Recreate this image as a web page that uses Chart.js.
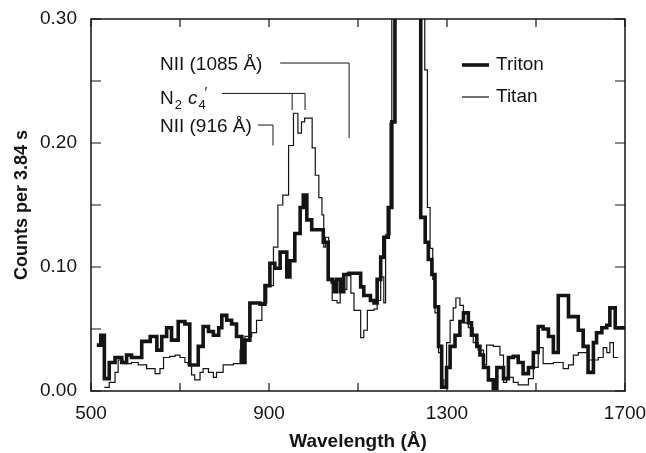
<!DOCTYPE html>
<html>
<head>
<meta charset="utf-8">
<script src="https://cdn.jsdelivr.net/npm/chart.js@4.4.0/dist/chart.umd.min.js"></script>
<style>
  html, body { margin: 0; padding: 0; background: #fff; }
</style>
</head>
<body>
<canvas id="chart" width="646" height="453"></canvas>
<script>
// данные спектров: левые края бинов (Å) и отсчёты; последний край закрывает последний бин
const seriesNames = ["Triton", "Titan"];

const tritonEdges = [513, 522, 530, 541, 554, 569, 580, 591, 614, 633, 648, 659, 670, 681, 696, 711, 722, 741, 752, 764,
  775, 787, 794, 805, 816, 827, 839, 846, 857, 880, 891, 902, 913, 925, 940, 947, 958, 970, 977, 985,
  996, 1022, 1033, 1042, 1046, 1051, 1060, 1068, 1080, 1106, 1113, 1128, 1136, 1143, 1151, 1158, 1168, 1176, 1183, 1241,
  1251, 1258, 1266, 1273, 1281, 1288, 1299, 1307, 1318, 1329, 1337, 1348, 1355, 1367, 1374, 1382, 1393, 1404, 1412, 1427,
  1438, 1449, 1460, 1471, 1483, 1494, 1505, 1516, 1528, 1539, 1550, 1573, 1595, 1606, 1617, 1629, 1636, 1648, 1659, 1666,
  1678, 1700];
const tritonCounts = [0.037, 0.045, 0.010, 0.023, 0.027, 0.023, 0.029, 0.027, 0.040, 0.044, 0.033, 0.044, 0.051, 0.041, 0.056, 0.054, 0.021, 0.036, 0.052, 0.048,
  0.045, 0.051, 0.061, 0.057, 0.054, 0.044, 0.023, 0.041, 0.071, 0.070, 0.085, 0.103, 0.099, 0.112, 0.092, 0.105, 0.127, 0.148, 0.158, 0.138,
  0.130, 0.120, 0.090, 0.088, 0.080, 0.090, 0.080, 0.094, 0.095, 0.084, 0.077, 0.073, 0.071, 0.090, 0.108, 0.124, 0.148, 0.217, 0.600, 0.140,
  0.120, 0.106, 0.094, 0.068, 0.036, 0.003, 0.019, 0.036, 0.045, 0.056, 0.063, 0.055, 0.045, 0.036, 0.029, 0.019, 0.009, 0.002, 0.019, 0.010,
  0.027, 0.028, 0.023, 0.014, 0.019, 0.031, 0.052, 0.050, 0.044, 0.031, 0.077, 0.060, 0.049, 0.036, 0.015, 0.039, 0.047, 0.051, 0.053, 0.067,
  0.051];

const titanEdges = [530, 541, 554, 561, 572, 591, 606, 625, 644, 655, 663, 677, 689, 700, 711, 718, 726, 733, 745, 752,
  764, 775, 782, 797, 820, 835, 846, 861, 872, 884, 895, 910, 920, 931, 944, 955, 965, 973, 980, 997,
  1004, 1012, 1019, 1023, 1027, 1034, 1042, 1053, 1060, 1068, 1075, 1084, 1091, 1106, 1113, 1121, 1136, 1143, 1151, 1158,
  1162, 1172, 1176, 1250, 1256, 1262, 1268, 1273, 1281, 1288, 1293, 1299, 1307, 1314, 1320, 1329, 1337, 1348, 1359, 1370,
  1382, 1389, 1404, 1419, 1427, 1434, 1449, 1460, 1483, 1494, 1505, 1516, 1539, 1561, 1573, 1584, 1595, 1617, 1640, 1651,
  1659, 1666, 1674, 1685];
const titanCounts = [0.003, 0.007, 0.015, 0.025, 0.022, 0.023, 0.021, 0.018, 0.014, 0.018, 0.027, 0.028, 0.029, 0.027, 0.023, 0.021, 0.013, 0.009, 0.015, 0.018,
  0.015, 0.011, 0.015, 0.021, 0.022, 0.033, 0.044, 0.047, 0.057, 0.071, 0.085, 0.116, 0.150, 0.158, 0.198, 0.224, 0.208, 0.217, 0.220, 0.196,
  0.174, 0.156, 0.142, 0.116, 0.124, 0.090, 0.073, 0.071, 0.085, 0.082, 0.095, 0.079, 0.065, 0.043, 0.049, 0.065, 0.066, 0.073, 0.092, 0.071,
  0.126, 0.216, 0.600, 0.259, 0.148, 0.115, 0.090, 0.063, 0.031, 0.009, 0.003, 0.039, 0.057, 0.067, 0.075, 0.069, 0.055, 0.051, 0.039, 0.033,
  0.021, 0.037, 0.036, 0.029, 0.007, 0.011, 0.007, 0.005, 0.010, 0.019, 0.035, 0.022, 0.023, 0.018, 0.021, 0.029, 0.031, 0.025, 0.027, 0.035,
  0.031, 0.039, 0.027];

const xTickLabels = [500, 900, 1300, 1700];
const yTickLabels = ["0.00", "0.10", "0.20", "0.30"];

const fontFamily = "'Liberation Sans', Arial, Helvetica, sans-serif";
const ink = "#141414";

function toSteps(edges, counts) {
  // точка на каждом краю, последняя повторяет последнее значение
  return edges.map((e, i) => ({ x: e, y: counts[Math.min(i, counts.length - 1)] }));
}

// рамка и внутренние засечки
const framePlugin = {
  id: "frame",
  afterDatasetsDraw(chart) {
    const { ctx, chartArea: a, scales: { x, y } } = chart;
    ctx.save();
    ctx.strokeStyle = ink;
    ctx.lineWidth = 1.5;
    ctx.strokeRect(a.left, a.top, a.right - a.left, a.bottom - a.top);
    ctx.lineWidth = 1.2;
    ctx.beginPath();
    x.ticks.forEach((t) => {
      const px = x.getPixelForValue(t.value);
      ctx.moveTo(px, a.bottom); ctx.lineTo(px, a.bottom - 8);
      ctx.moveTo(px, a.top); ctx.lineTo(px, a.top + 8);
    });
    y.ticks.forEach((t) => {
      const py = y.getPixelForValue(t.value);
      ctx.moveTo(a.left, py); ctx.lineTo(a.left + 10, py);
      ctx.moveTo(a.right, py); ctx.lineTo(a.right - 10, py);
    });
    ctx.stroke();
    ctx.restore();
  },
};

// подписи линий NII и N2 со скобками
const linesPlugin = {
  id: "lines",
  afterDatasetsDraw(chart) {
    const { ctx, scales: { x, y } } = chart;
    const px = (v) => x.getPixelForValue(v);
    const py = (v) => y.getPixelForValue(v);
    ctx.save();
    ctx.fillStyle = ink;
    ctx.strokeStyle = ink;
    ctx.lineWidth = 1;
    ctx.textBaseline = "middle";
    ctx.font = `19px ${fontFamily}`;

    const textX = px(655);

    // NII (1085 Å)
    ctx.fillText("NII (1085 Å)", textX, py(0.263));
    ctx.beginPath();
    ctx.moveTo(px(925), py(0.2645));
    ctx.lineTo(px(1080), py(0.2645));
    ctx.lineTo(px(1080), py(0.204));
    ctx.stroke();

    // N2 c4'
    const by = py(0.236) + 6;
    ctx.textBaseline = "alphabetic";
    let cx = textX;
    ctx.font = `19px ${fontFamily}`;
    ctx.fillText("N", cx, by);
    cx += ctx.measureText("N").width + 1;
    ctx.font = `13px ${fontFamily}`;
    ctx.fillText("2", cx, by + 5);
    cx += ctx.measureText("2").width + 6;
    ctx.font = `italic 19px ${fontFamily}`;
    ctx.fillText("c", cx, by);
    cx += ctx.measureText("c").width + 1;
    ctx.font = `13px ${fontFamily}`;
    ctx.fillText("4", cx, by + 5);
    ctx.font = `15px ${fontFamily}`;
    ctx.fillText("\u2032", cx + 6, by - 7);
    ctx.beginPath();
    ctx.moveTo(px(794), py(0.240));
    ctx.lineTo(px(981), py(0.240));
    ctx.lineTo(px(981), py(0.2266));
    ctx.moveTo(px(952), py(0.240));
    ctx.lineTo(px(952), py(0.2266));
    ctx.stroke();

    // NII (916 Å)
    ctx.textBaseline = "middle";
    ctx.font = `19px ${fontFamily}`;
    ctx.fillText("NII (916 Å)", textX, py(0.2129));
    ctx.beginPath();
    ctx.moveTo(px(875), py(0.2145));
    ctx.lineTo(px(909), py(0.2145));
    ctx.lineTo(px(909), py(0.198));
    ctx.stroke();
    ctx.restore();
  },
};

// легенда внутри графика
const legendPlugin = {
  id: "insideLegend",
  afterDatasetsDraw(chart) {
    const { ctx, chartArea: a } = chart;
    ctx.save();
    ctx.fillStyle = ink;
    ctx.strokeStyle = ink;
    ctx.font = `19px ${fontFamily}`;
    ctx.textBaseline = "middle";
    chart.data.datasets.forEach((ds, i) => {
      const yy = a.top + 46 + i * 32;
      ctx.lineWidth = ds.borderWidth;
      ctx.beginPath();
      ctx.moveTo(a.right - 163, yy);
      ctx.lineTo(a.right - 136, yy);
      ctx.stroke();
      ctx.fillText(ds.label, a.right - 129, yy);
    });
    ctx.restore();
  },
};

Chart.defaults.font.family = fontFamily;
Chart.defaults.color = ink;

new Chart(document.getElementById("chart"), {
  type: "line",
  data: {
    datasets: [
      {
        label: seriesNames[0],
        data: toSteps(tritonEdges, tritonCounts),
        stepped: "before",
        borderColor: ink,
        borderWidth: 3.6,
        pointRadius: 0,
        fill: false,
      },
      {
        label: seriesNames[1],
        data: toSteps(titanEdges, titanCounts),
        stepped: "before",
        borderColor: ink,
        borderWidth: 1.2,
        pointRadius: 0,
        fill: false,
      },
    ],
  },
  options: {
    responsive: false,
    animation: false,
    devicePixelRatio: 1,
    layout: { padding: { top: 19, right: 21, left: 0, bottom: 0 } },
    plugins: { legend: { display: false }, tooltip: { enabled: false } },
    scales: {
      x: {
        type: "linear",
        min: 500,
        max: 1700,
        afterFit(scale) {
          scale.height = 62;
          scale.paddingLeft = 0;
          scale.paddingRight = 0;
        },
        grid: { display: false, drawTicks: false },
        border: { display: false },
        ticks: {
          stepSize: 200,
          autoSkip: false,
          maxRotation: 0,
          padding: 11,
          font: { size: 19 },
          color: ink,
          callback(value) {
            return xTickLabels.includes(value) ? String(value) : "";
          },
        },
        title: {
          display: true,
          text: "Wavelength (Å)",
          font: { size: 19, weight: "bold" },
          color: ink,
          padding: { top: 0, bottom: 0 },
        },
      },
      y: {
        min: 0,
        max: 0.3,
        afterFit(scale) {
          scale.width = 91;
          scale.paddingTop = 0;
          scale.paddingBottom = 0;
        },
        grid: { display: false, drawTicks: false },
        border: { display: false },
        ticks: {
          stepSize: 0.05,
          autoSkip: false,
          padding: 14,
          font: { size: 19 },
          color: ink,
          callback(value) {
            const label = value.toFixed(2);
            return yTickLabels.includes(label) ? label : "";
          },
        },
        title: {
          display: true,
          text: "Counts per 3.84 s",
          font: { size: 18, weight: "bold" },
          color: ink,
          padding: { top: 11, bottom: 0 },
        },
      },
    },
  },
  plugins: [framePlugin, linesPlugin, legendPlugin],
});
</script>
</body>
</html>
